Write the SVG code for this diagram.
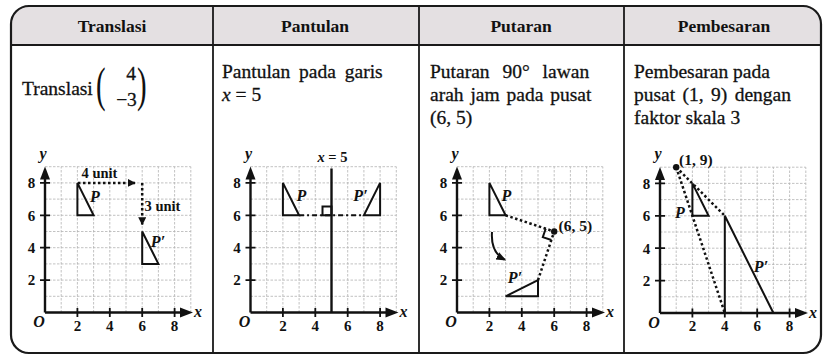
<svg xmlns="http://www.w3.org/2000/svg" xmlns:xlink="http://www.w3.org/1999/xlink" width="824" height="356" viewBox="0 0 824 356">
<style>
text{fill:#111;font-family:"Liberation Serif","Times New Roman",serif}
.hd{font-weight:bold;font-size:17.5px;text-anchor:middle}
.bd{font-size:19.5px;stroke:#111;stroke-width:0.3}
.par{font-size:48px;stroke:none}
.num{font-weight:bold;font-size:15px;text-anchor:middle}
.lab{font-weight:bold;font-size:14.5px}
.lab2{font-weight:bold;font-size:15.5px}
.it{font-style:italic;font-weight:bold;font-size:16px}
.grid{stroke:#b3b3b3;stroke-width:0.8;stroke-dasharray:2.5 1.5;fill:none}
.ax{stroke:#111;stroke-width:2.4;fill:none}
.tk{stroke:#111;stroke-width:1.8;fill:none}
.tri{stroke:#111;stroke-width:2;fill:none;stroke-linejoin:miter}
.dot{stroke:#111;stroke-width:2.5;stroke-dasharray:2.5 2.5;fill:none}
.line{stroke:#1a1a1a;fill:none}
</style>
<defs>
<marker id="ah" viewBox="0 0 10 10" refX="9" refY="5" markerWidth="3.2" markerHeight="3.2" orient="auto" markerUnits="strokeWidth">
<path d="M0,0 L10,5 L0,10 Z" fill="#111"/>
</marker>
<marker id="ah2" viewBox="0 0 10 10" refX="8" refY="5" markerWidth="5" markerHeight="5" orient="auto" markerUnits="strokeWidth">
<path d="M0,1 L10,5 L0,9 Z" fill="#111"/>
</marker>
<g id="axes">
<path class="grid" d="M16.2 0V-145.8M32.4 0V-145.8M48.6 0V-145.8M64.8 0V-145.8M81 0V-145.8M97.2 0V-145.8M113.4 0V-145.8M129.6 0V-145.8M145.8 0V-145.8M0 -16.2H145.8M0 -32.4H145.8M0 -48.6H145.8M0 -64.8H145.8M0 -81H145.8M0 -97.2H145.8M0 -113.4H145.8M0 -129.6H145.8M0 -145.8H145.8"/>
<path class="ax" d="M0 0V-134M0 0H136"/>
<path class="tk" d="M-5 -32.4H5M-5 -64.8H5M-5 -97.2H5M-5 -129.6H5M32.4 -4.5V4.5M64.8 -4.5V4.5M97.2 -4.5V4.5M129.6 -4.5V4.5"/>
<polygon points="0,-146 -5,-133 5,-133" fill="#111"/>
<polygon points="148,0 135,-5 135,5" fill="#111"/>
</g>
</defs>

<g id="table">
<path d="M11 45V24A18 18 0 0 1 29 6H803A18 18 0 0 1 821 24V45Z" fill="#e4e0e2"/>
<rect x="11" y="6" width="810" height="347" rx="18" ry="18" class="line" stroke-width="2.2"/>
<path class="line" stroke-width="1.8" d="M11 45H821M213 6V353M419 6V353M624 6V353"/>
</g>

<g id="headers">
<text class="hd" x="112" y="32">Translasi</text>
<text class="hd" x="315" y="32">Pantulan</text>
<text class="hd" x="521" y="32">Putaran</text>
<text class="hd" x="724" y="32">Pembesaran</text>
</g>

<g id="desc-translasi">
<text class="bd" x="22" y="95">Translasi</text>
<text class="bd par" transform="translate(96,101) scale(0.6,1)">(</text>
<text class="bd" x="131" y="80" text-anchor="middle">4</text>
<text class="bd" x="126.5" y="106" text-anchor="middle">−3</text>
<text class="bd par" transform="translate(137,101) scale(0.6,1)">)</text>
</g>
<g id="desc-pantulan">
<text class="bd" x="222" y="78" word-spacing="4">Pantulan pada garis</text>
<text class="bd" x="222" y="101"><tspan font-style="italic">x</tspan> = 5</text>
</g>
<g id="desc-putaran">
<text class="bd" x="430" y="78" word-spacing="8">Putaran 90° lawan</text>
<text class="bd" x="430" y="101" word-spacing="2">arah jam pada pusat</text>
<text class="bd" x="430" y="124">(6, 5)</text>
</g>
<g id="desc-pembesaran">
<text class="bd" x="634" y="78">Pembesaran pada</text>
<text class="bd" x="634" y="101" word-spacing="2.5">pusat (1, 9) dengan</text>
<text class="bd" x="634" y="124">faktor skala 3</text>
</g>

<g id="graph-translasi" transform="translate(45,312.5)">
<use xlink:href="#axes"/>
<text class="it" x="-2" y="-154" text-anchor="middle">y</text>
<text class="it" x="149" y="4.5">x</text>
<text class="it" x="-6" y="14.5" text-anchor="middle">O</text>
<text class="num" x="-13.5" y="-124.3">8</text><text class="num" x="-13.5" y="-91.9">6</text><text class="num" x="-13.5" y="-59.5">4</text><text class="num" x="-13.5" y="-27.1">2</text>
<text class="num" x="32.4" y="18">2</text><text class="num" x="64.8" y="18">4</text><text class="num" x="97.2" y="18">6</text><text class="num" x="129.6" y="18">8</text>
<path class="tri" d="M32.4 -129.6V-97.2H48.6Z"/>
<path class="tri" d="M97.2 -81V-48.6H113.4Z"/>
<path class="dot" d="M33 -129.6H90" marker-end="url(#ah)"/>
<path class="dot" d="M97.2 -129.6V-88" marker-end="url(#ah)"/>
<text class="lab" x="36.5" y="-135">4 unit</text>
<text class="lab" x="99.5" y="-101.5">3 unit</text>
<text class="it" x="50" y="-110.5" text-anchor="middle">P</text>
<text class="it" x="113" y="-66" text-anchor="middle">P′</text>
</g>

<g id="graph-pantulan" transform="translate(250.5,312.5)">
<use xlink:href="#axes"/>
<text class="it" x="-2" y="-154" text-anchor="middle">y</text>
<text class="it" x="149" y="4.5">x</text>
<text class="it" x="-6" y="14.5" text-anchor="middle">O</text>
<text class="num" x="-13.5" y="-124.3">8</text><text class="num" x="-13.5" y="-91.9">6</text><text class="num" x="-13.5" y="-59.5">4</text><text class="num" x="-13.5" y="-27.1">2</text>
<text class="num" x="32.4" y="18">2</text><text class="num" x="64.8" y="18">4</text><text class="num" x="97.2" y="18">6</text><text class="num" x="129.6" y="18">8</text>
<path class="ax" stroke-width="2" d="M81 0V-144"/>
<text class="lab" x="82" y="-150.5" text-anchor="middle"><tspan font-style="italic">x</tspan> = 5</text>
<path class="tri" d="M32.4 -129.6V-97.2H48.6Z"/>
<path class="tri" d="M129.6 -129.6V-97.2H113.4Z"/>
<path class="tri" stroke-width="1.8" stroke-dasharray="5 3 2 3" d="M48.6 -97.2H113.4"/>
<rect x="72" y="-106" width="9" height="8.8" class="tri" stroke-width="1.5"/>
<text class="it" x="51" y="-112" text-anchor="middle">P</text>
<text class="it" x="110" y="-112" text-anchor="middle">P′</text>
</g>

<g id="graph-putaran" transform="translate(457,312.5)">
<use xlink:href="#axes"/>
<text class="it" x="-2" y="-154" text-anchor="middle">y</text>
<text class="it" x="149" y="4.5">x</text>
<text class="it" x="-6" y="14.5" text-anchor="middle">O</text>
<text class="num" x="-13.5" y="-124.3">8</text><text class="num" x="-13.5" y="-91.9">6</text><text class="num" x="-13.5" y="-59.5">4</text><text class="num" x="-13.5" y="-27.1">2</text>
<text class="num" x="32.4" y="18">2</text><text class="num" x="64.8" y="18">4</text><text class="num" x="97.2" y="18">6</text><text class="num" x="129.6" y="18">8</text>
<path class="tri" d="M32.4 -129.6V-97.2H48.6Z"/>
<path class="tri" d="M48.6 -16.2H81V-32.4Z"/>
<path class="dot" d="M48.6 -97.2L97.2 -81L81 -32.4"/>
<path class="tri" stroke-width="1.5" d="M88.7 -83.8L85.8 -75.3L94.4 -72.5"/>
<circle cx="97.2" cy="-81" r="3.2" fill="#111"/>
<text class="lab2" x="101.5" y="-82">(6, 5)</text>
<path class="tri" stroke-width="1.6" d="M35 -80.5Q33.5 -60 47.5 -53" marker-end="url(#ah2)"/>
<text class="it" x="49.5" y="-112" text-anchor="middle">P</text>
<text class="it" x="58" y="-29.5" text-anchor="middle">P′</text>
</g>

<g id="graph-pembesaran" transform="translate(660,313)">
<use xlink:href="#axes"/>
<text class="it" x="-2" y="-154" text-anchor="middle">y</text>
<text class="it" x="149" y="4.5">x</text>
<text class="it" x="-6" y="14.5" text-anchor="middle">O</text>
<text class="num" x="-13.5" y="-124.3">8</text><text class="num" x="-13.5" y="-91.9">6</text><text class="num" x="-13.5" y="-59.5">4</text><text class="num" x="-13.5" y="-27.1">2</text>
<text class="num" x="32.4" y="18">2</text><text class="num" x="64.8" y="18">4</text><text class="num" x="97.2" y="18">6</text><text class="num" x="129.6" y="18">8</text>
<path class="tri" d="M32.4 -129.6V-97.2H48.6Z"/>
<path class="tri" d="M64.8 -97.2V0H113.4Z"/>
<path class="dot" d="M16.2 -145.8L64.8 -97.2M16.2 -145.8L64.8 0"/>
<circle cx="16.2" cy="-145.8" r="3.2" fill="#111"/>
<text class="lab2" x="19" y="-148.5">(1, 9)</text>
<text class="it" x="20" y="-95" text-anchor="middle">P</text>
<text class="it" x="101" y="-41.5" text-anchor="middle">P′</text>
</g>
</svg>
